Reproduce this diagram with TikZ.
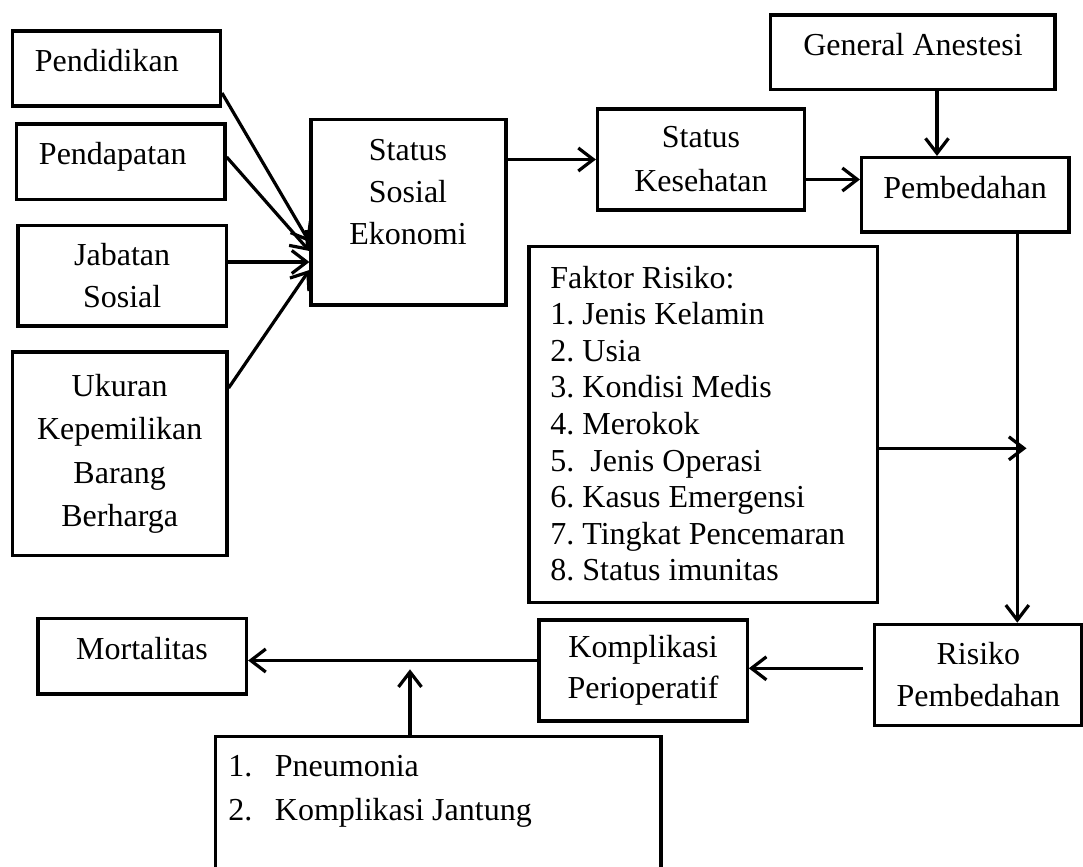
\documentclass[tikz,border=0pt]{standalone}
\usepackage{fontspec}
\setmainfont{Liberation Serif}
\usetikzlibrary{arrows.meta}
\frenchspacing

\tikzset{
  box/.style={draw, line width=1.6pt, inner sep=0pt, align=center,
    font=\fontsize{16}{21}\selectfont},
  boxsize/.style 2 args={minimum width=#1*0.5pt, minimum height=#2*0.5pt},
  txt/.style={inner sep=0pt, align=center, font=\fontsize{16}{21}\selectfont},
  arr/.style={line width=1.6pt, -{Straight Barb[length=7.5pt,width=11.5pt]}}
}

\begin{document}
\begin{tikzpicture}[x=0.5pt, y=-0.5pt]
    \clip (0,0) rectangle (1083,867);

    % Boxes
    \node[box, boxsize={208}{75}] (pendidikan) at (116.4,68.5) {};
    \node[txt, anchor=base west] (pendidikan-txt) at (34.4,71.7) {Pendidikan};
    \node[box, boxsize={208.5}{75.3}] (pendapatan) at (120.8,161.7) {};
    \node[txt, anchor=base west] (pendapatan-txt) at (38.6,164) {Pendapatan};
    \node[box, boxsize={208.3}{100.3}] (jabatan) at (122.2,275.9) {Jabatan\\Sosial};
    \node[box, boxsize={214.6}{203.5}, font=\fontsize{16}{21.75}\selectfont]
        (ukuran) at (119.7,453.8) {Ukuran\\Kepemilikan\\Barang\\Berharga};
    \node[box, boxsize={195}{185.7}] (sse) at (408.5,212.2) {};
    \node[txt, anchor=north] (sse-txt) at (408,138.5) {Status\\Sosial\\Ekonomi};
    \node[box, boxsize={207}{101}, font=\fontsize{16}{22}\selectfont]
        (kesehatan) at (701,159.5) {Status\\Kesehatan};
    \node[box, boxsize={284.3}{74.5}] (anestesi) at (912.9,52.3) {};
    \node[txt, anchor=base] (anestesi-txt) at (913,55) {General Anestesi};
    \node[box, boxsize={207.5}{74.5}] (pembedahan) at (965.3,194.8) {};
    \node[txt, anchor=base] (pembedahan-txt) at (965,198.5) {Pembedahan};
    \node[box, boxsize={348.4}{355.8}] (faktor) at (703.2,424.6) {};
    \node[box, boxsize={208.2}{101}, font=\fontsize{16}{20.5}\selectfont]
        (komplikasi) at (643.1,670.5) {Komplikasi\\Perioperatif};
    \node[box, boxsize={207.1}{101.4}] (risiko) at (978.4,675) {Risiko\\Pembedahan};
    \node[box, boxsize={208.5}{75.7}] (mortalitas) at (142.3,656.2) {};
    \node[txt, anchor=base] (mortalitas-txt) at (142,659) {Mortalitas};
    \node[box, boxsize={445.5}{183.3}] (penyakit) at (438.3,828.4) {};

    % Lists
    \foreach \txt [count=\i from 0] in {Faktor Risiko:, 1. Jenis Kelamin, 2. Usia,
        3. Kondisi Medis, 4. Merokok, 5.~ Jenis Operasi, 6. Kasus Emergensi,
        7. Tingkat Pencemaran, 8. Status imunitas}
        \node[txt, anchor=base west] (faktor-\i) at (550,288.3+36.55*\i) {\txt};
    \foreach \txt [count=\i] in {Pneumonia, Komplikasi Jantung} {
        \node[txt, anchor=base west] (nomor-\i) at (228,733.4+43.3*\i) {\i.};
        \node[txt, anchor=base west] (penyakit-\i) at (274.5,733.4+43.3*\i) {\txt};
    }

    % Junctions
    \coordinate (faktor-tip) at (1026.5,448.3);
    \coordinate (risiko-out) at (862.5,668.3);
    \coordinate (gabung) at (410,669.3);

    % Arrows
    \draw[arr] (pendidikan.east |- 0,93) -- (sse.west |- 0,242);
    \draw[arr] (pendapatan.east |- 0,157) -- (sse.west |- 0,251);
    \draw[arr] (jabatan.east |- 0,262) -- (sse.west |- 0,262);
    \draw[arr] (ukuran.east |- 0,388) -- (sse.west |- 0,270);
    \draw[arr] (sse.east |- kesehatan.west) -- (kesehatan.west);
    \draw[arr] ([xshift=-1.5pt]kesehatan.east |- 0,179.5) -- (pembedahan.west |- 0,179.5);
    \draw[arr] (anestesi.south -| 937,0) -- (pembedahan.north -| 937,0);
    \draw[arr] (pembedahan.south -| 1017.3,0) -- (risiko.north -| 1017.3,0);
    \draw[arr] (faktor.east |- faktor-tip) -- (faktor-tip);
    \draw[arr] (risiko-out) -- (komplikasi.east |- risiko-out);
    \draw[arr] (komplikasi.west |- 0,660.5) -- (mortalitas.east |- 0,660.5);
    \draw[arr] (penyakit.north -| gabung) -- (gabung);

\end{tikzpicture}
\end{document}
